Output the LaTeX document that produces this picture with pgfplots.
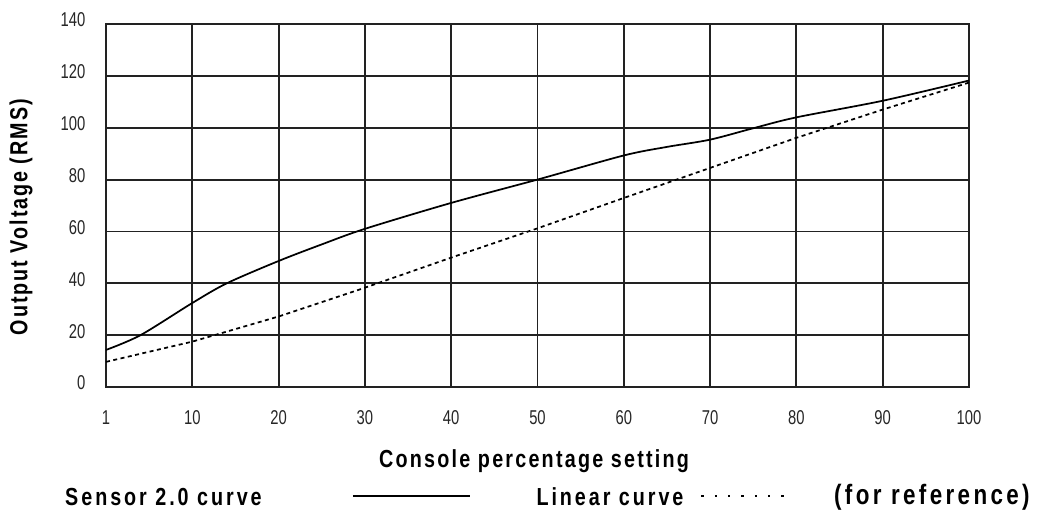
\documentclass[border=0pt]{standalone}
\usepackage{fontspec}
\setmainfont{Liberation Sans}[FakeStretch=0.8]
\newfontfamily\tickfont{Liberation Sans}[FakeStretch=0.74]
\newfontfamily\lblfont{Liberation Sans}[FakeStretch=0.8, LetterSpace=9]
\newfontfamily\ylblfont{Liberation Sans}[FakeStretch=0.8, LetterSpace=8]
\newfontfamily\legfont{Liberation Sans}[FakeStretch=0.8, LetterSpace=12]
\usepackage{pgfplots}
\pgfplotsset{compat=1.18}
\definecolor{gridc}{HTML}{222222}
\begin{document}
\begin{tikzpicture}
\begin{axis}[
  scale only axis,
  width=647.25pt, height=272.25pt,
  xmin=0, xmax=10, ymin=0, ymax=140,
  xtick={0,1,...,10},
  xticklabels={1,10,20,30,40,50,60,70,80,90,100},
  ytick={0,20,...,140},
  major tick length=0pt,
  grid=major,
  grid style={gridc, line width=1.4pt},
  axis line style={gridc, line width=1.6pt},
  /pgf/number format/assume math mode=true,
  ticklabel style={font=\tickfont\fontsize{15}{15}\selectfont, text=black!85},
  xticklabel style={yshift=-14pt},
  yticklabel style={xshift=-12pt, yshift=3pt},
  xlabel={\lblfont\bfseries\fontsize{18.5}{19}\selectfont Console percentage setting},
  xlabel style={at={(axis description cs:0.496,-0.204)}, anchor=center},
  ylabel={\ylblfont\bfseries\fontsize{18.5}{19}\selectfont Output Voltage (RMS)},
  ylabel style={at={(axis description cs:-0.0985,0.468)}, anchor=center, rotate=0},
  clip=false,
]
\addplot[black, line width=1.3pt, smooth, tension=0.5] coordinates {
 (0,14.3) (0.4,20) (1,32.4) (1.4,40) (2,48.6) (2.5,55) (3,61) (4,71) (5,80)
 (6,89.3) (6.5,92.6) (7,95.4) (7.5,99.8) (8,104) (9,110.4) (10,118.2)};
\addplot[black, line width=1.3pt, dash pattern=on 3pt off 2.6pt] coordinates {
 (0,9.7) (1,17.5) (2,27.2) (3,38.3) (4,49.9) (5,61.2) (6,72.9) (7,84.5)
 (8,96.1) (9,107) (10,117.4)};
% legend
\node[anchor=center, font=\legfont\bfseries\fontsize{18.5}{19}\selectfont]
  at (axis description cs:0.0666,-0.303) {Sensor 2.0 curve};
\draw[black, line width=1.5pt] (axis description cs:0.2862,-0.300) -- (axis description cs:0.4218,-0.300);
\node[anchor=center, font=\legfont\bfseries\fontsize{18.5}{19}\selectfont]
  at (axis description cs:0.584,-0.303) {Linear curve};
\draw[black, line width=1.3pt, dash pattern=on 1.6pt off 8.4pt] (axis description cs:0.690,-0.300) -- (axis description cs:0.7926,-0.300);
\node[anchor=center, font=\legfont\bfseries\fontsize{21}{22}\selectfont]
  at (axis description cs:0.957,-0.304) {(for reference)};
\coordinate (bbsw) at (axis description cs:-0.1228,-0.3554);
\coordinate (bbne) at (axis description cs:1.0892,1.0661);
\end{axis}
\pgfresetboundingbox
\path (bbsw) rectangle (bbne);
\end{tikzpicture}
\end{document}
